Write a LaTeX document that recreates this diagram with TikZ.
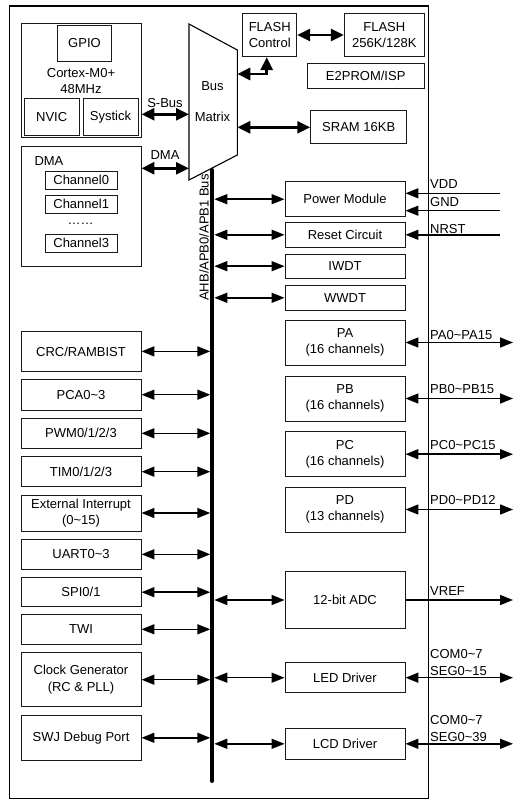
\documentclass[tikz,border=0pt]{standalone}
\usepackage{fontspec}
\setmainfont{Liberation Sans}
\usetikzlibrary{arrows.meta}

\begin{document}
\begin{tikzpicture}[x=1pt, y=-1pt,
    font=\fontsize{13}{16.5}\selectfont,
    blk/.style={draw=black!90, line width=0.9pt, inner sep=0pt, align=center},
    lbl/.style={inner sep=1pt, anchor=base west},
    arr/.style={line width=1.5pt, {Triangle[length=13pt,width=10pt]}-{Triangle[length=13pt,width=10pt]}},
    arrin/.style={line width=1.5pt, -{Triangle[length=13pt,width=10pt]}},
    busarr/.style={line width=2.7pt, {Triangle[length=13pt,width=12pt]}-{Triangle[length=13pt,width=12pt]}},
    tobus/.style={arr, shorten >=2pt},
    frombus/.style={arr, shorten <=2pt}]
                \useasboundingbox (0,0) rectangle (526,805);
                \draw[line width=1.1pt] (9.3,6) rectangle (428.3,798.3);
                \path (428.3,0) coordinate (fr);
                \path (513,0) coordinate (xout);
                \path (500,0) coordinate (xin);
                \path (212.3,170) coordinate (bustop);
                \path (212.3,781) coordinate (busbot);
                \path (189,24) coordinate (m1);
                \path (237.3,50) coordinate (m2);
                \path (237.3,155) coordinate (m3);
                \path (189,180) coordinate (m4);
                \draw[line width=1.1pt] (m1) -- (m2) -- (m3) -- (m4) -- cycle;
                \node[align=center] (mtx) at (212.5,101.5) {Bus\\[15pt]Matrix};
                \node[blk, minimum width=120pt, minimum height=114pt] (cpu) at (81,80.8) {Cortex-M0+\\48MHz};
                \node[blk, minimum width=54.4pt, minimum height=36.4pt] (gpio) at (84.5,43.5) {GPIO};
                \node[blk, minimum width=54.7pt, minimum height=36.7pt] (nvic) at (51.7,117.3) {NVIC};
                \node[blk, minimum width=55pt, minimum height=36.7pt] (systick) at (110.5,117.3) {Systick};
                \node[blk, minimum width=120pt, minimum height=120pt] (dma) at (81,206.7) {};
                \node[inner sep=0pt, anchor=west] (dmalbl) at (34.3,160.7) {DMA};
                \node[blk, minimum width=72.3pt, minimum height=18pt] (ch0) at (81.2,180) {Channel0};
                \node[blk, minimum width=72.3pt, minimum height=18pt] (ch1) at (81.2,204.2) {Channel1};
                \node[inner sep=0pt] (chdots) at (80.5,224) {……};
                \node[blk, minimum width=72.3pt, minimum height=18pt] (ch3) at (81.2,243.3) {Channel3};
                \draw[busarr] (cpu.east |- 0,114.3) -- (m1 |- 0,114.3);
                \node (sbuslbl) at (165,103.5) {S-Bus};
                \draw[busarr] (dma.east |- 0,168.3) -- (m1 |- 0,168.3);
                \node (dmabuslbl) at (165,155) {DMA};
                \node[blk, minimum width=54pt, minimum height=43.4pt] (fctl) at (269.7,35) {FLASH\\Control};
                \node[blk, minimum width=80pt, minimum height=43.4pt] (flash) at (384.3,35) {FLASH\\256K/128K};
                \node[blk, minimum width=116.7pt, minimum height=25pt] (eeprom) at (365.7,75.8) {E2PROM/ISP};
                \node[blk, minimum width=96pt, minimum height=33.3pt] (sram) at (358.7,127.3) {SRAM 16KB};
                \draw[busarr] (fctl) -- (flash);
                \draw[busarr] ([yshift=-24pt]m2) -| ([xshift=-3pt]fctl.south);
                \draw[busarr] (m2 |- sram) -- (sram);
                \draw[line width=4pt, line cap=round] (bustop) -- (busbot);
                \node[rotate=90, anchor=base, inner sep=0pt] (buslbl) at (208.5,237.5) {AHB/APB0/APB1 Bus};
                \node[blk, minimum width=120pt, minimum height=35pt] (pwr) at (345,199.2) {Power Module};
                \node[blk, minimum width=120pt, minimum height=25pt] (rst) at (345,234.8) {Reset Circuit};
                \node[blk, minimum width=120pt, minimum height=24.5pt] (iwdt) at (345,266.2) {IWDT};
                \node[blk, minimum width=120pt, minimum height=24.5pt] (wwdt) at (345,297.8) {WWDT};
                \node[blk, minimum width=120pt, minimum height=45pt] (pa) at (345,342.5) {PA\\(16 channels)};
                \node[blk, minimum width=120pt, minimum height=45pt] (pb) at (345,398.5) {PB\\(16 channels)};
                \node[blk, minimum width=120pt, minimum height=45pt] (pc) at (345,454.2) {PC\\(16 channels)};
                \node[blk, minimum width=120pt, minimum height=45pt] (pd) at (345,509.5) {PD\\(13 channels)};
                \node[blk, minimum width=120pt, minimum height=56.7pt] (adc) at (345,600) {12-bit ADC};
                \node[blk, minimum width=120pt, minimum height=30pt] (led) at (345,677.7) {LED Driver};
                \node[blk, minimum width=120pt, minimum height=30.5pt] (lcd) at (345,743.8) {LCD Driver};
                \node[blk, minimum width=120pt, minimum height=39.4pt] (crc) at (81,351.4) {CRC/RAMBIST};
                \node[blk, minimum width=120pt, minimum height=30.7pt] (pca) at (81,394.7) {PCA0\textasciitilde 3};
                \node[blk, minimum width=120pt, minimum height=30pt] (pwm) at (81,433.3) {PWM0/1/2/3};
                \node[blk, minimum width=120pt, minimum height=30pt] (tim) at (81,471.7) {TIM0/1/2/3};
                \node[blk, minimum width=120pt, minimum height=36pt] (exti) at (81,513) {External Interrupt\\(0\textasciitilde 15)};
                \node[blk, minimum width=120pt, minimum height=30pt] (uart) at (81,554.3) {UART0\textasciitilde 3};
                \node[blk, minimum width=120pt, minimum height=29pt] (spi) at (81,592.2) {SPI0/1};
                \node[blk, minimum width=120pt, minimum height=30pt] (twi) at (81,629.3) {TWI};
                \node[blk, minimum width=120pt, minimum height=54pt] (clk) at (81,679.7) {Clock Generator\\(RC \& PLL)};
                \node[blk, minimum width=120pt, minimum height=45.7pt] (swj) at (81,737.8) {SWJ Debug Port};
                \draw[tobus] (crc) -- (bustop |- crc);
                \draw[tobus] (pca) -- (bustop |- pca);
                \draw[tobus] (pwm) -- (bustop |- pwm);
                \draw[tobus] (tim) -- (bustop |- tim);
                \draw[tobus] (exti) -- (bustop |- exti);
                \draw[tobus] (uart) -- (bustop |- uart);
                \draw[tobus] (spi) -- (bustop |- spi);
                \draw[tobus] (twi) -- (bustop |- twi);
                \draw[tobus] (clk) -- (bustop |- clk);
                \draw[tobus] (swj) -- (bustop |- swj);
                \draw[frombus] (bustop |- pwr) -- (pwr);
                \draw[frombus] (bustop |- rst) -- (rst);
                \draw[frombus] (bustop |- iwdt) -- (iwdt);
                \draw[frombus] (bustop |- wwdt) -- (wwdt);
                \draw[frombus] (bustop |- adc) -- (adc);
                \draw[frombus] (bustop |- led) -- (led);
                \draw[frombus] (bustop |- lcd) -- (lcd);
                \draw[arrin] (xin |- 0,193.3) -- (pwr.east |- 0,193.3);
                \draw[arrin] (xin |- 0,210.7) -- (pwr.east |- 0,210.7);
                \draw[arrin] (xin |- rst) -- (rst);
                \node[lbl] (vddlbl) at (429,188.7) {VDD};
                \node[lbl] (gndlbl) at (429,207) {GND};
                \node[lbl] (nrstlbl) at (429,233.7) {NRST};
                \draw[arr] (pa) -- (pa -| xout);
                \draw[arr] (pb) -- (pb -| xout);
                \draw[arr] (pc) -- (pc -| xout);
                \draw[arr] (pd) -- (pd -| xout);
                \node[lbl] (palbl) at (429,339) {PA0\textasciitilde PA15};
                \node[lbl] (pblbl) at (429,393.5) {PB0\textasciitilde PB15};
                \node[lbl] (pclbl) at (429,449) {PC0\textasciitilde PC15};
                \node[lbl] (pdlbl) at (429,504) {PD0\textasciitilde PD12};
                \draw[arrin] (adc) -- (adc -| xout);
                \node[lbl] (vreflbl) at (429,595.3) {VREF};
                \draw[arr] (led) -- (led -| xout);
                \node[inner sep=1pt, anchor=south west, align=left] (ledlbl) at (429,676.5) {COM0\textasciitilde 7\\SEG0\textasciitilde 15};
                \draw[arr] (lcd) -- (lcd -| xout);
                \node[inner sep=1pt, anchor=south west, align=left] (lcdlbl) at (429,742.5) {COM0\textasciitilde 7\\SEG0\textasciitilde 39};
            \end{tikzpicture}
\end{document}
